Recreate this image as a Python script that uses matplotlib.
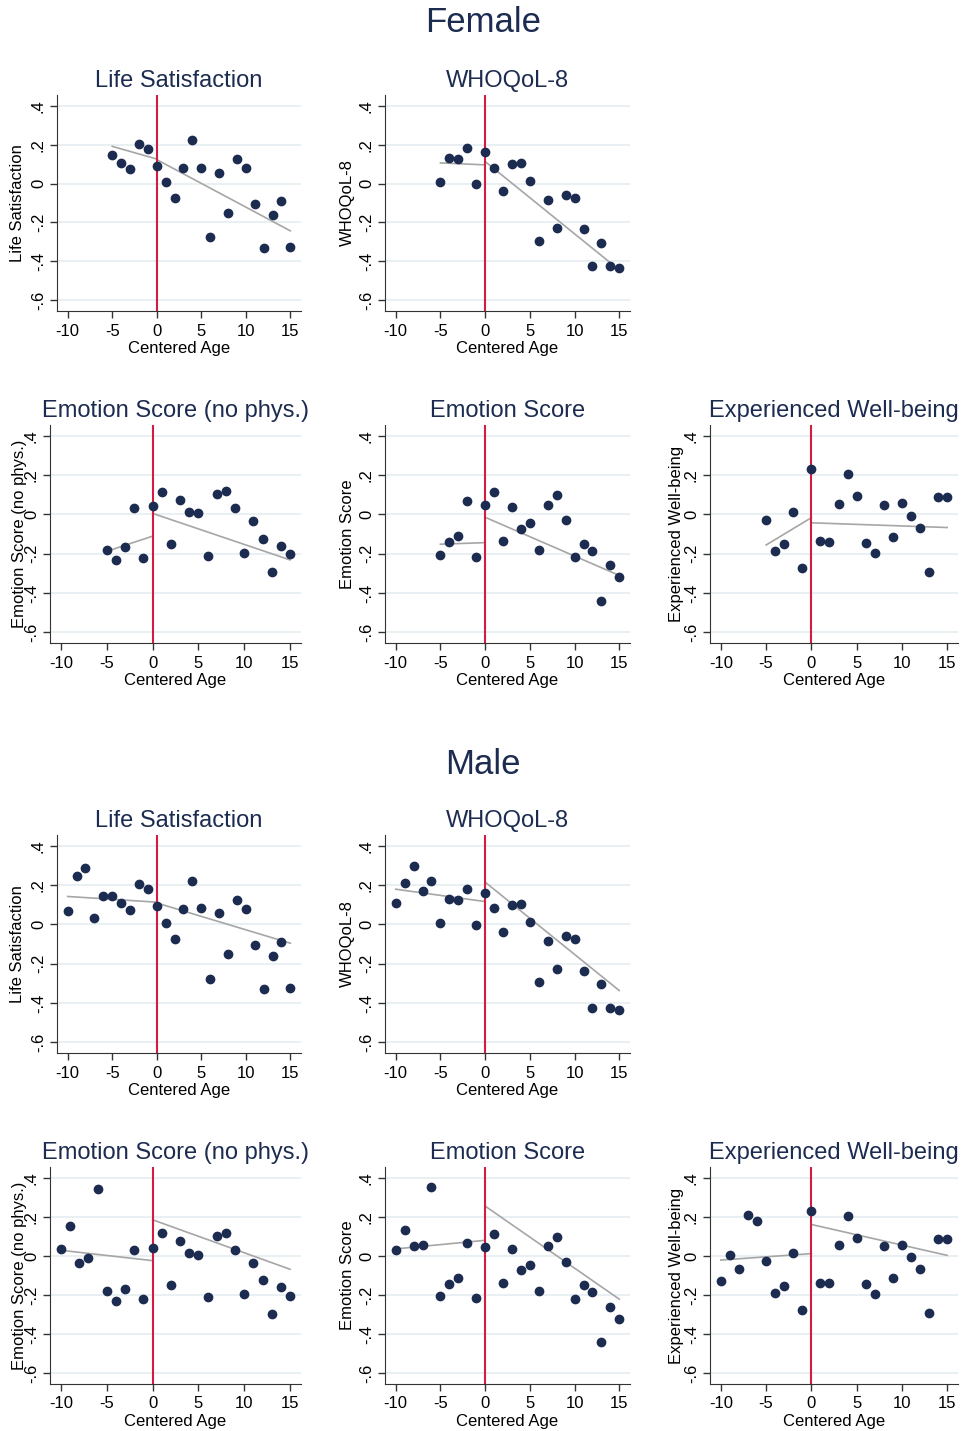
import numpy as np
import matplotlib
matplotlib.use("Agg")
import matplotlib.pyplot as plt

plt.rcParams['font.family'] = ['Liberation Sans', 'DejaVu Sans']
plt.rcParams['axes.unicode_minus'] = False

# centered age, -10..15 (female sample only covers -5..15)
ages = list(range(-10, 16))

life_sat = [0.070, 0.244, 0.287, 0.032, 0.142, 0.146, 0.107, 0.073, 0.204, 0.178,
            0.092, 0.007, -0.072, 0.079, 0.222, 0.082, -0.277, 0.056, -0.152, 0.126,
            0.079, -0.103, -0.330, -0.162, -0.091, -0.325]
whoqol = [0.111, 0.210, 0.299, 0.169, 0.221, 0.008, 0.130, 0.124, 0.182, -0.004,
          0.161, 0.082, -0.038, 0.099, 0.103, 0.014, -0.294, -0.087, -0.226, -0.058,
          -0.075, -0.236, -0.424, -0.306, -0.424, -0.436]
emo_nophys = [0.038, 0.154, -0.038, -0.009, 0.340, -0.181, -0.232, -0.168, 0.031, -0.221,
              0.043, 0.116, -0.150, 0.075, 0.014, 0.007, -0.212, 0.104, 0.118, 0.032,
              -0.195, -0.034, -0.125, -0.296, -0.159, -0.203]
emo_score = [0.032, 0.132, 0.051, 0.055, 0.354, -0.205, -0.142, -0.111, 0.068, -0.215,
             0.048, 0.113, -0.138, 0.036, -0.073, -0.046, -0.181, 0.050, 0.099, -0.029,
             -0.219, -0.149, -0.185, -0.441, -0.260, -0.321]
exp_wb = [-0.126, 0.007, -0.065, 0.210, 0.181, -0.027, -0.188, -0.152, 0.014, -0.275,
          0.232, -0.137, -0.140, 0.055, 0.203, 0.094, -0.144, -0.195, 0.050, -0.115,
          0.058, -0.007, -0.067, -0.292, 0.089, 0.089]

titles = ['Life Satisfaction', 'WHOQoL-8', 'Emotion Score (no phys.)',
          'Emotion Score', 'Experienced Well-being']
series = [life_sat, whoqol, emo_nophys, emo_score, exp_wb]

# fitted segments: (y at start, y at 0) left of cutoff, (y at 0, y at end) right of cutoff
fem_left = [(0.191, 0.126), (0.106, 0.096), (-0.188, -0.111), (-0.152, -0.144), (-0.156, -0.017)]
fem_right = [(0.123, -0.243), (0.113, -0.407), (0.005, -0.232), (-0.015, -0.311), (-0.043, -0.067)]
fem_right_end = [15, 14, 15, 15, 15]
male_left = [(0.142, 0.113), (0.179, 0.116), (0.029, -0.024), (0.036, 0.080), (-0.021, 0.012)]
male_right = [(0.109, -0.096), (0.215, -0.337), (0.185, -0.068), (0.255, -0.221), (0.161, 0.003)]
male_right_end = [15, 15, 15, 15, 15]

yticks = [-0.6, -0.4, -0.2, 0, 0.2, 0.4]
ytick_labels = ['-.6', '-.4', '-.2', '0', '.2', '.4']
xticks = [-10, -5, 0, 5, 10, 15]

navy = '#1c2b50'
W, H = 964, 1431
fig = plt.figure(figsize=(W / 100, H / 100), dpi=100)

# pixel boxes: (left, right, ylabel x) per column and row
col_box = {0: [(57, 301, 18), (50, 301, 20)], 1: [(385, 630, 347), (385, 630, 347)],
           2: [(710, 958, 677), (710, 958, 677)]}
panel_pos = [(0, 0), (0, 1), (1, 0), (1, 1), (1, 2)]  # (row, col) of each measure


def draw_section(row_tops, min_age, left_fits, right_fits, right_ends):
    for k, (r, c) in enumerate(panel_pos):
        left, right, ylab_x = col_box[c][r]
        top, bottom = row_tops[r]
        ax = fig.add_axes([left / W, 1 - bottom / H, (right - left) / W, (bottom - top) / H])
        xs = [a for a in ages if a >= min_age]
        ys = [v for a, v in zip(ages, series[k]) if a >= min_age]

        for t in yticks:
            ax.axhline(t, color='#e4edf1', lw=1.2, zorder=0)
        ax.plot([min_age, 0], left_fits[k], color='#a6a6a6', lw=1.2, zorder=2)
        ax.plot([0, right_ends[k]], right_fits[k], color='#a6a6a6', lw=1.2, zorder=2)
        ax.axvline(0, color='#d41c43', lw=1.5, zorder=2.5)
        ax.plot(xs, ys, 'o', color=navy, ms=6, zorder=3)

        ax.set_xlim(-11.2, 16.2)
        ax.set_ylim(-0.655, 0.455)
        ax.set_xticks(xticks)
        ax.set_yticks(yticks)
        ax.set_yticklabels(ytick_labels, rotation=90, va='center')
        ax.tick_params(labelsize=12, length=5, width=1, color='#333333', pad=3)
        ax.tick_params(axis='x', pad=4)
        for s in ['top', 'right']:
            ax.spines[s].set_visible(False)
        for s in ['left', 'bottom']:
            ax.spines[s].set_color('#333333')
        ax.set_xlabel('Centered Age', fontsize=12, labelpad=2)
        ax.set_ylabel(titles[k], fontsize=12, va='center')
        ax.yaxis.set_label_coords((ylab_x - left) / (right - left), 0.5)
        ax.set_title(titles[k], fontsize=17, color=navy, pad=6)


fig.text(483 / W, 1 - 23 / H, 'Female', fontsize=25, color=navy, ha='center', va='center')
draw_section([(95, 311), (425, 643)], -5, fem_left, fem_right, fem_right_end)

fig.text(483 / W, 1 - 765 / H, 'Male', fontsize=25, color=navy, ha='center', va='center')
draw_section([(835, 1053), (1167, 1384)], -10, male_left, male_right, male_right_end)

fig.savefig('out.png', dpi=100, facecolor='white')
